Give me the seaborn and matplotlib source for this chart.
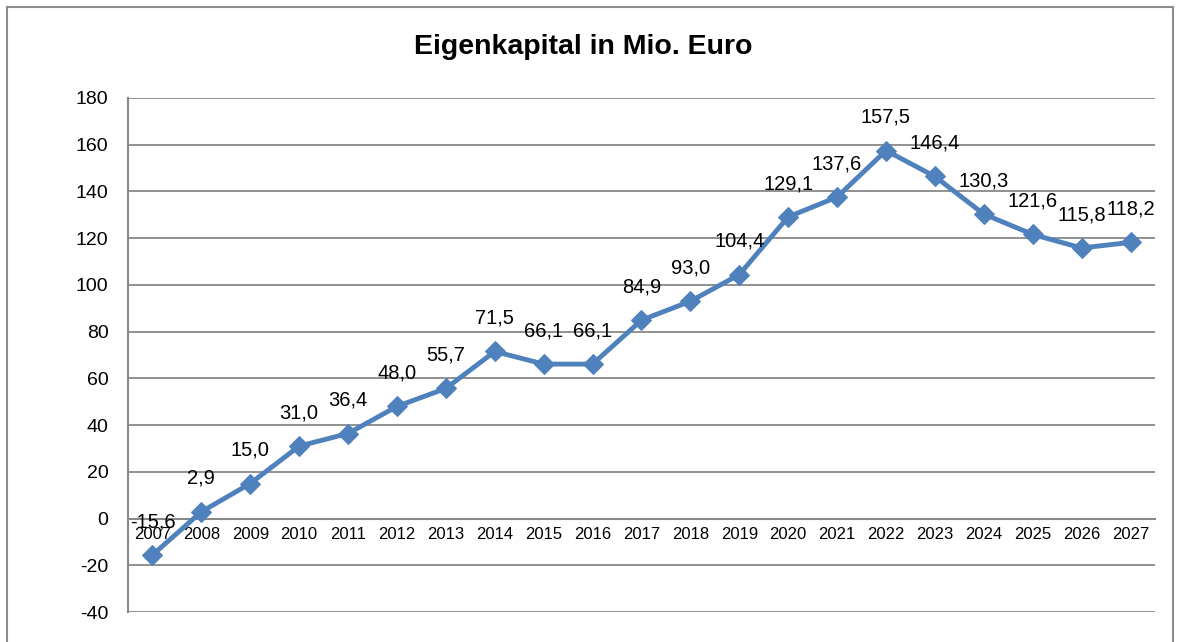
import numpy as np
import pandas as pd
import matplotlib
matplotlib.use("Agg")
import matplotlib.pyplot as plt
import seaborn as sns
from matplotlib.patches import Rectangle

# Daten aus dem Diagramm
jahre = [str(j) for j in range(2007, 2028)]
eigenkapital = [-15.6, 2.9, 15.0, 31.0, 36.4, 48.0, 55.7, 71.5, 66.1, 66.1,
                84.9, 93.0, 104.4, 129.1, 137.6, 157.5, 146.4, 130.3, 121.6,
                115.8, 118.2]
y_ticks = list(range(-40, 181, 20))
titel = "Eigenkapital in Mio. Euro"

df = pd.DataFrame({"idx": range(len(jahre)), "jahr": jahre, "wert": eigenkapital})

sns.set_style("white")
plt.rcParams['font.family'] = ['Liberation Sans', 'DejaVu Sans']
plt.rcParams['text.color'] = "black"
plt.rcParams['xtick.labelcolor'] = "black"
plt.rcParams['ytick.labelcolor'] = "black"

grau = "#888888"
blau = "#4F81BD"

fig = plt.figure(figsize=(11.83, 6.42), dpi=100)
ax = fig.add_axes([0.1082, 0.0467, 0.8681, 0.8007])

# Rahmen um die Grafik
fig.patches.append(Rectangle((7 / 1183, -0.05), 1166 / 1183, 1.05 - 7 / 642,
                             transform=fig.transFigure, fill=False,
                             edgecolor="#8c8c8c", linewidth=1.5))

sns.lineplot(data=df, x="idx", y="wert", ax=ax, color=blau, linewidth=3.5,
             marker="D", markersize=10, markeredgecolor=blau, zorder=3)

# Datenbeschriftungen
for i, v in enumerate(eigenkapital):
    ax.annotate(f"{v:.1f}".replace(".", ","), (i, v), xytext=(0, 24),
                textcoords="offset points", ha="center", va="center",
                fontsize=14.5, color="black", zorder=4)

ax.set_xlim(-0.5, len(jahre) - 0.5)
ax.set_ylim(-40, 180)
ax.set_yticks(y_ticks)
ax.set_yticklabels([str(t) for t in y_ticks], fontsize=14)
ax.yaxis.grid(True, color=grau, linewidth=1.3)
ax.set_axisbelow(True)

# Kategorieachse bei y=0
ax.spines['bottom'].set_position(('data', 0))
ax.spines['bottom'].set_color(grau)
ax.spines['bottom'].set_linewidth(1.5)
ax.spines['left'].set_color(grau)
ax.spines['left'].set_linewidth(1.5)
ax.spines['top'].set_visible(False)
ax.spines['right'].set_visible(False)

ax.set_xticks(np.arange(-0.5, len(jahre), 1.0))
ax.set_xticklabels([])
ax.set_xticks(range(len(jahre)), minor=True)
ax.set_xticklabels(jahre, minor=True, fontsize=12)
ax.tick_params(axis="x", which="major", length=4, color=grau, width=1.3, direction="out")
ax.tick_params(axis="x", which="minor", length=0, pad=6)
ax.tick_params(axis="y", length=6, color=grau, width=1.3, direction="out", pad=8)

ax.set_xlabel("")
ax.set_ylabel("")
fig.text(0.493, 0.927, titel, ha="center", va="center", fontsize=20.5, fontweight="bold")

fig.savefig("out.png", dpi=100)
